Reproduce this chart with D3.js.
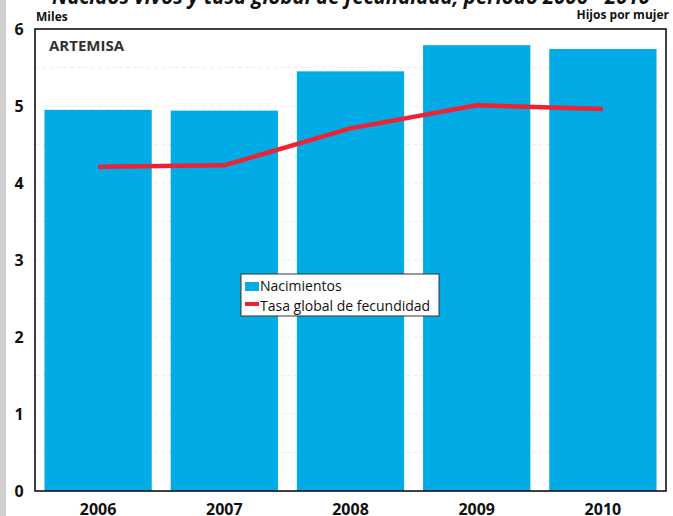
<!DOCTYPE html>
<html>
<head>
<meta charset="utf-8">
<script src="https://cdn.jsdelivr.net/npm/d3@7"></script>
<style>
  body { margin: 0; background: #fff; }
  svg { display: block; font-family: "Open Sans", "Noto Sans", sans-serif; }
</style>
</head>
<body>
<svg id="chart" width="673" height="516"></svg>
<script>
// data
var years = ["2006", "2007", "2008", "2009", "2010"];
var nacimientos = [4.95, 4.94, 5.45, 5.79, 5.74];   // miles
var tasaFecundidad = [4.21, 4.23, 4.71, 5.01, 4.96]; // plotted on same scale
var yTicks = [0, 1, 2, 3, 4, 5, 6];
var gridVals = [0.5, 1, 1.5, 2, 2.5, 3, 3.5, 4, 4.5, 5, 5.5];

var svg = d3.select("#chart");
var margin = { top: 29, right: 7, bottom: 25, left: 35 };
var width = 673 - margin.left - margin.right;
var height = 516 - margin.top - margin.bottom;

// grey strip on the left edge
svg.append("rect").attr("x", 0).attr("y", 0).attr("width", 6).attr("height", 516).attr("fill", "#cfcfcf");

// cut off title
svg.append("text")
  .attr("x", 52).attr("y", 4)
  .attr("textLength", 598).attr("lengthAdjust", "spacingAndGlyphs")
  .style("font-size", "22px").style("font-weight", "bold").style("font-style", "italic")
  .attr("fill", "#111")
  .text("Nacidos vivos y tasa global de fecundidad, período 2006 - 2010");

var g = svg.append("g").attr("transform", "translate(" + margin.left + "," + margin.top + ")");

var x = d3.scaleBand().domain(years).range([0, width]).paddingInner(0.15).paddingOuter(0.075);
var y = d3.scaleLinear().domain([0, 6]).range([height, 0]);

// faint dashed grid
g.selectAll(".grid").data(gridVals).enter().append("line")
  .attr("class", "grid")
  .attr("x1", 0).attr("x2", width)
  .attr("y1", function (d) { return y(d); }).attr("y2", function (d) { return y(d); })
  .attr("stroke", "#eeeeee").attr("stroke-dasharray", "4,3").attr("stroke-width", 1);

// bars
g.selectAll(".bar").data(nacimientos).enter().append("rect")
  .attr("class", "bar")
  .attr("x", function (d, i) { return x(years[i]); })
  .attr("width", x.bandwidth())
  .attr("y", function (d) { return y(d); })
  .attr("height", function (d) { return height - y(d); })
  .attr("fill", "#00abe6");

// line
var line = d3.line()
  .x(function (d, i) { return x(years[i]) + x.bandwidth() / 2; })
  .y(function (d) { return y(d); });

g.append("path")
  .datum(tasaFecundidad)
  .attr("d", line)
  .attr("fill", "none")
  .attr("stroke", "#ee2233")
  .attr("stroke-width", 4.5);

// frame
g.append("rect").attr("x", 0).attr("y", 0).attr("width", width).attr("height", height)
  .attr("fill", "none").attr("stroke", "#000").attr("stroke-width", 1.5);

// y axis labels
g.selectAll(".ytick").data(yTicks).enter().append("text")
  .attr("x", -16).attr("y", function (d) { return y(d) + 6; })
  .attr("text-anchor", "middle")
  .style("font-size", "16px").style("font-weight", "bold").attr("fill", "#111")
  .text(function (d) { return d; });

// x axis labels
g.selectAll(".xtick").data(years).enter().append("text")
  .attr("x", function (d) { return x(d) + x.bandwidth() / 2; })
  .attr("y", height + 24)
  .attr("text-anchor", "middle")
  .style("font-size", "16px").style("font-weight", "bold").attr("fill", "#111")
  .text(function (d) { return d; });

// axis titles
svg.append("text").attr("x", 36).attr("y", 21)
  .style("font-size", "12px").style("font-weight", "bold").attr("fill", "#111").text("Miles");
svg.append("text").attr("x", 669).attr("y", 19).attr("text-anchor", "end")
  .style("font-size", "12px").style("font-weight", "bold").attr("fill", "#111").text("Hijos por mujer");

// region label
g.append("text").attr("x", 14).attr("y", 22)
  .style("font-size", "15px").style("font-weight", "bold").attr("fill", "#333").text("ARTEMISA");

// legend
var lg = svg.append("g").attr("transform", "translate(241,274)");
lg.append("rect").attr("width", 198).attr("height", 42).attr("fill", "#fff").attr("stroke", "#333").attr("stroke-width", 1);
lg.append("rect").attr("x", 4).attr("y", 8).attr("width", 14).attr("height", 9).attr("fill", "#00abe6");
lg.append("text").attr("x", 19).attr("y", 17).style("font-size", "14px").attr("fill", "#111").text("Nacimientos");
lg.append("rect").attr("x", 4).attr("y", 28).attr("width", 14).attr("height", 4).attr("fill", "#ee2233");
lg.append("text").attr("x", 19).attr("y", 37).style("font-size", "14px").attr("fill", "#111").text("Tasa global de fecundidad");
</script>
</body>
</html>
